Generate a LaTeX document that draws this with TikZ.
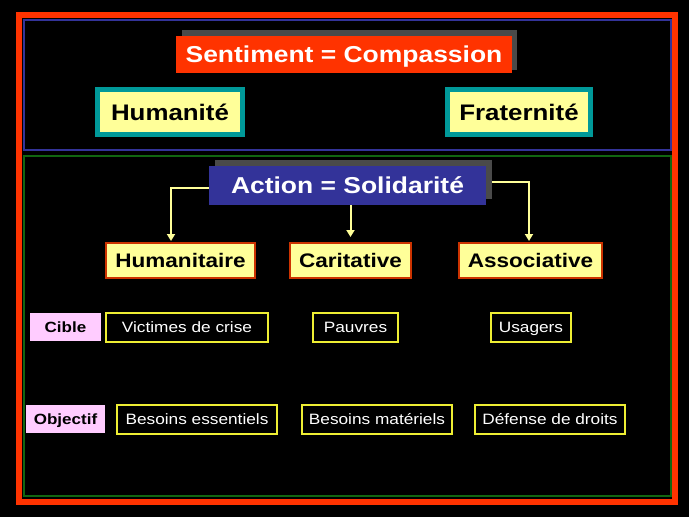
\documentclass[tikz,border=0pt]{standalone}
\usepackage{fontspec}
\setmainfont{Liberation Sans}[FakeStretch=1.15]
\usetikzlibrary{arrows.meta}
\definecolor{framered}{HTML}{FF3300}
\definecolor{frameblue}{HTML}{333399}
\definecolor{framegreen}{HTML}{116611}
\definecolor{titlered}{HTML}{FF3300}
\definecolor{shadowgray}{HTML}{4A4A4A}
\definecolor{tealbord}{HTML}{009999}
\definecolor{paleyellow}{HTML}{FFFF99}
\definecolor{actblue}{HTML}{333399}
\definecolor{orangebord}{HTML}{CC3300}
\definecolor{brightyellow}{HTML}{EEEE33}
\definecolor{pinkfill}{HTML}{FFCCFF}
\tikzset{
  titlebox/.style={text height=21.2pt, text depth=4.6pt, inner sep=0pt, text=white, font=\bfseries\fontsize{23}{26}\selectfont},
  valuebox/.style={text height=20.7pt, text depth=4.5pt, draw=tealbord, line width=5pt, fill=paleyellow, inner sep=0pt, minimum height=45pt, font=\bfseries\fontsize{22.5}{26}\selectfont},
  typebox/.style={text height=18pt, text depth=3.9pt, draw=orangebord, line width=2pt, fill=paleyellow, inner sep=0pt, minimum height=35pt, font=\bfseries\fontsize{19.6}{23}\selectfont},
  itembox/.style={text height=13.8pt, text depth=3pt, draw=brightyellow, line width=2.2pt, fill=black, text=white, inner sep=0pt, minimum height=29pt, font=\fontsize{15}{18}\selectfont},
  labelbox/.style={text height=13.6pt, text depth=3pt, fill=pinkfill, inner sep=0pt, font=\bfseries\fontsize{14.8}{18}\selectfont},
  flow/.style={draw=paleyellow, line width=2pt, -{Triangle[width=8pt,length=7pt]}}
}
\begin{document}
\begin{tikzpicture}[x=1pt,y=-1pt]
\useasboundingbox (0,0) rectangle (689,517);
\fill[black] (0,0) rectangle (689,517);
% frames
\draw[framered, line width=6pt] (19,15) rectangle (675,501.5);
\draw[frameblue, line width=2pt] (24,20) rectangle (671,150);
\draw[framegreen, line width=2pt] (24,156) rectangle (671,496);
% top part
\fill[shadowgray] (182,30) rectangle (517,70);
\node[titlebox, fill=titlered, minimum width=336pt, minimum height=37pt] (sent) at (344,54.5) {Sentiment = Compassion};
\node[valuebox, minimum width=145pt] (hum) at (170,112) {Humanité};
\node[valuebox, minimum width=143pt] (frat) at (519,112) {Fraternité};
% action part
\fill[shadowgray] (215,160) rectangle (492,199);
\node[titlebox, fill=actblue, minimum width=277pt, minimum height=39pt] (act) at (347.5,185.5) {Action = Solidarité};
\node[typebox, minimum width=149pt] (huma) at (180.5,260.5) {Humanitaire};
\node[typebox, minimum width=121pt] (cari) at (350.5,260.5) {Caritative};
\node[typebox, minimum width=143pt] (asso) at (530.5,260.5) {Associative};
\coordinate (actL) at (209,188);
\coordinate (actR) at (492,182);
\draw[flow, shorten >=1pt] (actL) -| ([xshift=-9.5pt]huma.north);
\draw[flow, shorten >=5pt] (act.south -| cari.north) -- (cari.north);
\draw[flow, shorten >=1pt] (actR) -| ([xshift=-1.5pt]asso.north);
% rows
\node[labelbox, minimum width=71pt, minimum height=28pt] (cible) at (65.5,327) {Cible};
\node[itembox, minimum width=162pt] (vict) at (187,327.5) {Victimes de crise};
\node[itembox, minimum width=85pt] (pauv) at (355.5,327.5) {Pauvres};
\node[itembox, minimum width=80pt] (usag) at (531,327.5) {Usagers};
\node[labelbox, minimum width=79pt, minimum height=28pt] (obj) at (65.5,419) {Objectif};
\node[itembox, minimum width=160pt] (bess) at (197,419.5) {Besoins essentiels};
\node[itembox, minimum width=150pt] (besm) at (377,419.5) {Besoins matériels};
\node[itembox, minimum width=150pt] (defd) at (550,419.5) {Défense de droits};
\end{tikzpicture}
\end{document}
